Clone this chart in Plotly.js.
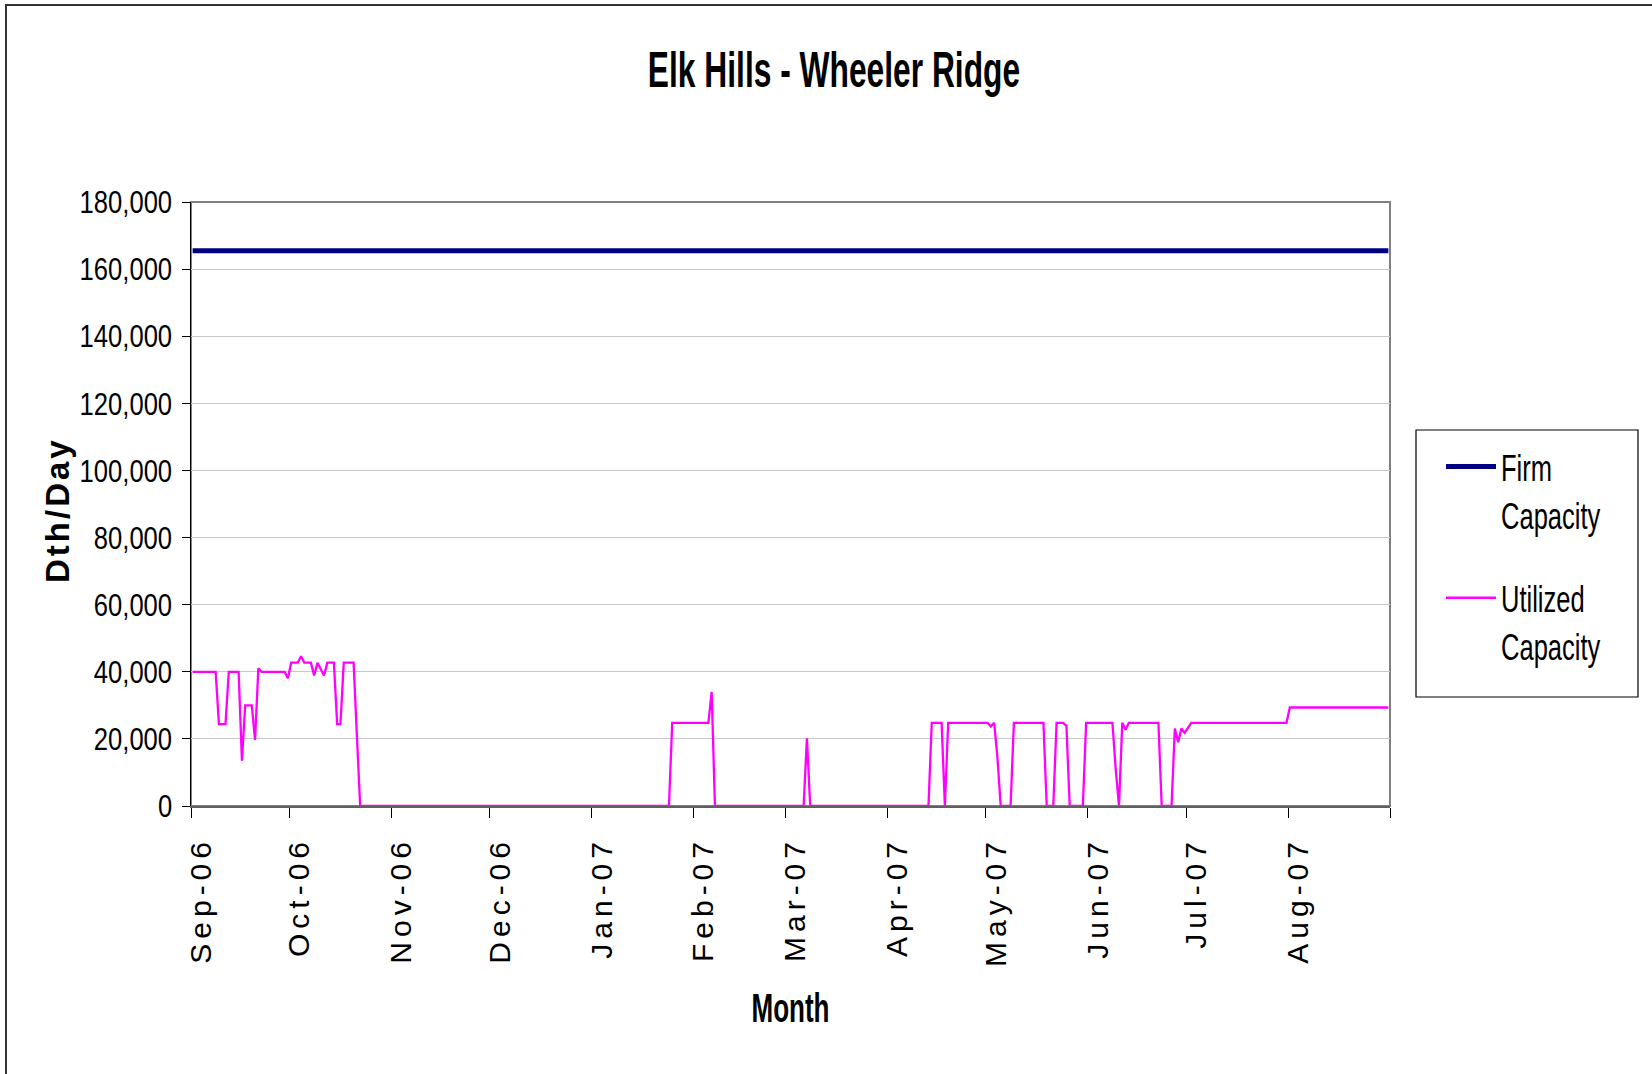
<!DOCTYPE html>
<html>
<head>
<meta charset="utf-8">
<script src="https://cdn.plot.ly/plotly-3.0.1.min.js"></script>
<style>
  html, body { margin: 0; padding: 0; background: #fff; }
  #chart { width: 1652px; height: 1074px; position: absolute; left: 0; top: 0; }
  #frame { position: absolute; left: 5px; top: 4px; width: 1700px; height: 1100px;
           border-top: 2px solid #333; border-left: 2px solid #333; pointer-events: none; }
  .xtick text { letter-spacing: 5px; }
  .annotation-text { letter-spacing: 3px; }
</style>
</head>
<body>
<div id="chart"></div>
<div id="frame"></div>
<script>
// ---- data ----
const tickDates = ['2006-09-01','2006-10-01','2006-11-01','2006-12-01','2007-01-01','2007-02-01',
                   '2007-03-01','2007-04-01','2007-05-01','2007-06-01','2007-07-01','2007-08-01','2007-09-01'];
const tickLabels = ['Sep-06','Oct-06','Nov-06','Dec-06','Jan-07','Feb-07',
                    'Mar-07','Apr-07','May-07','Jun-07','Jul-07','Aug-07',''];

const firmDates = ['2006-09-01','2007-08-31'];
const firmCapacity = [165500, 165500];

const utilizedDates = [
  '2006-09-01','2006-09-08','2006-09-09','2006-09-11','2006-09-12','2006-09-15','2006-09-16','2006-09-17',
  '2006-09-19','2006-09-20','2006-09-21','2006-09-22','2006-09-29','2006-09-30','2006-10-01','2006-10-03',
  '2006-10-04','2006-10-05','2006-10-07','2006-10-08','2006-10-09','2006-10-11','2006-10-12','2006-10-14',
  '2006-10-15','2006-10-16','2006-10-17','2006-10-20','2006-10-21','2006-10-22',
  '2007-01-24','2007-01-25','2007-02-05','2007-02-06','2007-02-07',
  '2007-03-06','2007-03-07','2007-03-08',
  '2007-04-13','2007-04-14','2007-04-17','2007-04-18','2007-04-19',
  '2007-05-01','2007-05-02','2007-05-03','2007-05-04','2007-05-05','2007-05-08','2007-05-09',
  '2007-05-18','2007-05-19','2007-05-21','2007-05-22','2007-05-24','2007-05-25','2007-05-26',
  '2007-05-30','2007-05-31','2007-06-08','2007-06-09','2007-06-10','2007-06-11','2007-06-12','2007-06-13',
  '2007-06-22','2007-06-23','2007-06-26','2007-06-27','2007-06-28','2007-06-29','2007-06-30','2007-07-02',
  '2007-07-31','2007-08-01','2007-08-31'
];
const utilizedCapacity = [
  40000, 40000, 24400, 24400, 40000, 40000, 13500, 30000,
  30000, 19700, 41000, 40000, 40000, 38100, 42700, 42700,
  44600, 42700, 42700, 38900, 42700, 38900, 42700, 42700,
  24400, 24400, 42700, 42700, 21000, 0,
  0, 24800, 24800, 34000, 0,
  0, 20200, 0,
  0, 24800, 24800, 0, 24800,
  24800, 23700, 24800, 14400, 0, 0, 24800,
  24800, 0, 0, 24800, 24800, 23900, 0,
  0, 24800, 24800, 11000, 0, 24800, 22700, 24800,
  24800, 0, 0, 23100, 19000, 23100, 21800, 24800,
  24800, 29350, 29350
];

const seriesNames = ['Firm<br>Capacity', 'Utilized<br>Capacity'];
const chartTitle = 'Elk Hills - Wheeler Ridge';
const xTitle = 'Month';
const yTitle = 'Dth/Day';

// ---- styling ----
const FONT = "'Liberation Sans', Arial, sans-serif";
const DAY_MS = 86400000;

const traces = [
  {
    x: firmDates, y: firmCapacity, type: 'scatter', mode: 'lines',
    xperiod: DAY_MS, xperiodalignment: 'middle',
    name: seriesNames[0], legendgroup: 'a',
    line: { color: '#000080', width: 5 }
  },
  {
    x: utilizedDates, y: utilizedCapacity, type: 'scatter', mode: 'lines',
    xperiod: DAY_MS, xperiodalignment: 'middle',
    name: seriesNames[1], legendgroup: 'b',
    line: { color: '#FF00FF', width: 2.3 }
  }
];

const layout = {
  width: 1652, height: 1074,
  paper_bgcolor: '#ffffff', plot_bgcolor: '#ffffff',
  margin: { l: 191, r: 262, t: 202, b: 268, autoexpand: false },
  showlegend: true,
  title: {
    text: '<b>' + chartTitle + '</b>',
    font: { family: FONT, size: 50, color: '#000' },
    x: 834 / 1652, xref: 'container', xanchor: 'center',
    y: 1 - 69 / 1074, yref: 'container', yanchor: 'middle'
  },
  xaxis: {
    type: 'date',
    range: ['2006-09-01', '2007-09-01'],
    tickmode: 'array', tickvals: tickDates, ticktext: tickLabels,
    tickangle: -90,
    ticks: 'outside', ticklen: 10, tickwidth: 1, tickcolor: '#000',
    ticklabelshift: 10, ticklabelstandoff: 7,
    tickfont: { family: FONT, size: 30, color: '#000' },
    showgrid: false, zeroline: false,
    showline: true, linecolor: '#606060', linewidth: 2,
    title: { text: '<b>' + xTitle + '</b>', font: { family: FONT, size: 40, color: '#000' }, standoff: 28 }
  },
  yaxis: {
    range: [0, 180000],
    tickmode: 'linear', tick0: 0, dtick: 20000,
    tickformat: ',d',
    ticks: 'outside', ticklen: 8, tickwidth: 1, tickcolor: '#000',
    ticklabelstandoff: 3,
    tickfont: { family: FONT, size: 32, color: '#000' },
    showgrid: true, gridcolor: '#c8c8c8', gridwidth: 1,
    zeroline: false,
    showline: true, linecolor: '#000', linewidth: 1.5
  },
  annotations: [
    { text: '<b>' + yTitle + '</b>', textangle: -90, showarrow: false,
      xref: 'paper', yref: 'paper', x: (58 - 191) / 1199, y: (806 - 510) / 604,
      xanchor: 'center', yanchor: 'middle',
      font: { family: FONT, size: 33, color: '#000' } }
  ],
  shapes: [
    { type: 'rect', xref: 'paper', yref: 'paper', x0: 0, x1: 1, y0: 0, y1: 1,
      line: { color: '#808080', width: 2 }, layer: 'below' },
    { type: 'rect', xref: 'paper', yref: 'paper',
      x0: (1416 - 191) / 1199, x1: (1638 - 191) / 1199,
      y0: (806 - 697) / 604, y1: (806 - 430) / 604,
      line: { color: '#000', width: 1.2 }, fillcolor: 'rgba(0,0,0,0)', layer: 'above' }
  ],
  legend: {
    x: (1441 - 191) / 1199, xanchor: 'left', y: (806 - 436) / 604, yanchor: 'top',
    bgcolor: 'rgba(0,0,0,0)', borderwidth: 0,
    font: { family: FONT, size: 37, color: '#000' },
    itemwidth: 50, valign: 'top', tracegroupgap: 32,
    traceorder: 'grouped'
  }
};

// squeeze text horizontally to mimic the narrow lettering of the original
function squeeze(el, f) {
  const len = el.getComputedTextLength();
  if (len > 0) {
    el.setAttribute('textLength', (len * f).toFixed(1));
    el.setAttribute('lengthAdjust', 'spacingAndGlyphs');
  }
}
function squeezeAll(selector, f) {
  document.querySelectorAll(selector).forEach(t => {
    const lines = t.querySelectorAll('tspan.line');
    if (lines.length) lines.forEach(l => squeeze(l, f));
    else squeeze(t, f);
  });
}

Plotly.newPlot('chart', traces, layout, { staticPlot: true, displayModeBar: false }).then(() => {
  squeezeAll('.gtitle', 0.635);
  squeezeAll('.xtitle', 0.65);
  squeezeAll('.ytick text', 0.80);
  squeezeAll('.legendtext', 0.69);
});
</script>
</body>
</html>
